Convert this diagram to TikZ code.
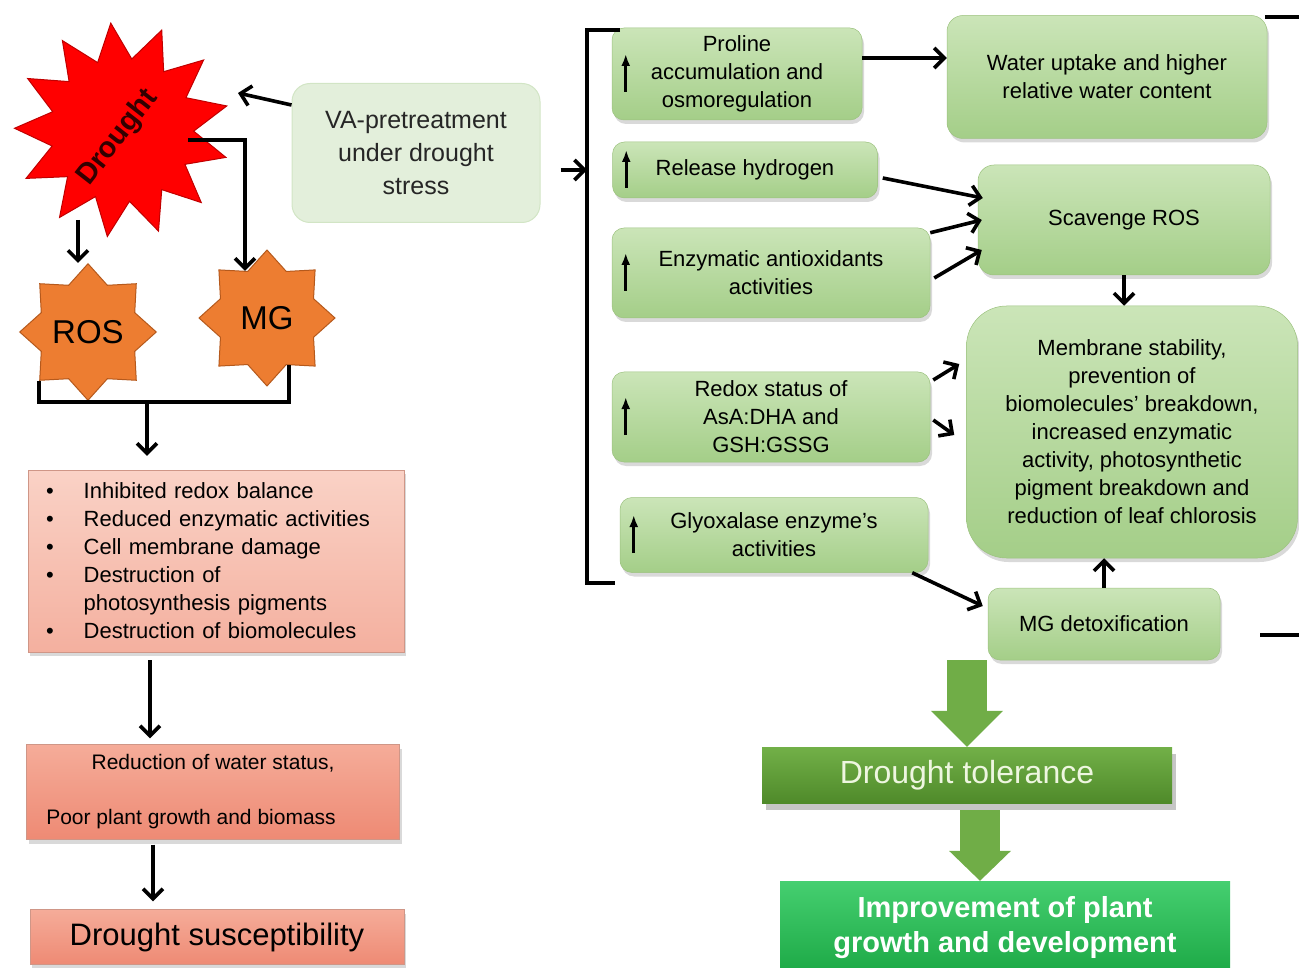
\documentclass[tikz,border=0pt]{standalone}
\usepackage{fontspec}
\setmainfont{Liberation Sans}
\usetikzlibrary{positioning, arrows.meta, shapes.geometric, shadows}

\definecolor{leaftop}{HTML}{CBE5B8}
\definecolor{leafbot}{HTML}{A4CE88}
\definecolor{leafline}{HTML}{9CC27F}
\definecolor{vafill}{HTML}{E3EFDB}
\definecolor{valine}{HTML}{D2E5C5}
\definecolor{rosetop}{HTML}{FAD2C6}
\definecolor{rosebot}{HTML}{F4B09F}
\definecolor{salmtop}{HTML}{F5AC99}
\definecolor{salmbot}{HTML}{EE8A74}
\definecolor{toltop}{HTML}{72B048}
\definecolor{tolbot}{HTML}{4F8A2A}
\definecolor{toltext}{HTML}{EEF6E0}
\definecolor{imptop}{HTML}{45CF70}
\definecolor{impbot}{HTML}{1CA845}
\definecolor{blockgreen}{HTML}{70AD47}
\definecolor{orangefill}{HTML}{ED7D31}
\definecolor{orangeline}{HTML}{B5591C}
\definecolor{burstred}{HTML}{FF0000}
\definecolor{burstline}{HTML}{C00000}

\begin{document}
\begin{tikzpicture}[x=1pt, y=-1pt,
    >={Straight Barb[length=10pt,width=20pt]},
    con/.style={->, line width=3.6pt},
    uparr/.style={-{Latex[length=12pt,width=9pt]}, line width=3.4pt},
    leaf/.style={rounded corners=12pt, top color=leaftop, bottom color=leafbot, draw=leafline,
      line width=.5pt, drop shadow={opacity=.3, shadow xshift=2pt, shadow yshift=-4pt},
      align=center, inner sep=0pt, font=\fontsize{22}{28}\selectfont},
    rose/.style={top color=rosetop, bottom color=rosebot, draw=rosebot!85!black, line width=.4pt,
      drop shadow={opacity=.3, shadow xshift=2pt, shadow yshift=-4pt}, inner sep=0pt,
      font=\fontsize{22}{28}\selectfont},
    burst/.style={star, star points=8, star point ratio=1.35, inner sep=0pt, minimum size=136pt,
      fill=orangefill, draw=orangeline, line width=1pt, font=\fontsize{33}{33}\selectfont},
    tol/.style={top color=toltop, bottom color=tolbot, text=toltext, inner sep=0pt,
      drop shadow={opacity=.45, shadow xshift=4pt, shadow yshift=-7pt}, font=\fontsize{32}{32}\selectfont},
    imp/.style={top color=imptop, bottom color=impbot, text=white, inner sep=0pt, align=center,
      font=\bfseries\fontsize{29}{35}\selectfont},
    block/.style={line width=40pt, blockgreen, -{Triangle[length=36pt,width=72pt,line width=0pt]}}]

  \useasboundingbox (0,0) rectangle (1299,968);

  % left side
  \node[star, star points=13, star point ratio=1.5, minimum size=215pt, inner sep=0pt,
    fill=burstred, draw=burstline, line width=1pt, shape border rotate=6] (1) at (122,130) {};
  \node[rotate=52, font=\bfseries\fontsize{29}{29}\selectfont, text=black!80!red] (1t) at (118,138) {Drought};
  \node[burst] (2) at (88,332) {ROS};
  \node[burst] (3) at (267,318) {MG};
  \node[rounded corners=18pt, fill=vafill, draw=valine, line width=1pt, minimum width=248pt,
    minimum height=139pt, align=center, font=\fontsize{25}{33}\selectfont, text=black!85] (0) at (416,153)
    {VA-pretreatment\\under drought\\stress};

  \node[rose, minimum width=376pt, minimum height=182pt, text width=340pt, align=left] (4) at (216,561)
    {\textbullet\hspace{30pt}Inhibited redox balance\\
     \textbullet\hspace{30pt}Reduced enzymatic activities\\
     \textbullet\hspace{30pt}Cell membrane damage\\
     \textbullet\hspace{30pt}Destruction of\\
     \hphantom{\textbullet}\hspace{30pt}photosynthesis pigments\\
     \textbullet\hspace{30pt}Destruction of biomolecules};
  \node[rose, top color=salmtop, bottom color=salmbot, minimum width=373pt, minimum height=95pt,
    align=center, font=\fontsize{21}{28}\selectfont] (5) at (213,792)
    {Reduction of water status,\\[27pt]\hspace*{-44pt}Poor plant growth and biomass};
  \node[rose, top color=salmtop, bottom color=salmbot, minimum width=374pt, minimum height=55pt,
    font=\fontsize{31}{31}\selectfont] (6) at (217,937) {Drought susceptibility};

  % right side
  \node[leaf, minimum width=250pt, minimum height=92pt] (7) at (737,74) {Proline\\accumulation and\\osmoregulation};
  \node[leaf, minimum width=320pt, minimum height=123pt, rounded corners=16pt] (8) at (1107,77)
    {Water uptake and higher\\relative water content};
  \node[leaf, minimum width=265pt, minimum height=56pt] (9) at (745,170) {Release hydrogen};
  \node[leaf, minimum width=292pt, minimum height=110pt, rounded corners=16pt] (10) at (1124,220) {Scavenge ROS};
  \node[leaf, minimum width=318pt, minimum height=90pt] (11) at (771,273) {Enzymatic antioxidants\\activities};
  \node[leaf, minimum width=331pt, minimum height=252pt, rounded corners=40pt] (12) at (1132,432)
    {Membrane stability,\\prevention of\\biomolecules’ breakdown,\\increased enzymatic\\activity, photosynthetic\\pigment breakdown and\\reduction of leaf chlorosis};
  \node[leaf, minimum width=318pt, minimum height=90pt] (13) at (771,417) {Redox status of\\AsA:DHA and\\GSH:GSSG};
  \node[leaf, minimum width=308pt, minimum height=75pt] (14) at (774,535) {Glyoxalase enzyme’s\\activities};
  \node[leaf, minimum width=232pt, minimum height=72pt] (15) at (1104,624) {MG detoxification};
  \node[tol, minimum width=410pt, minimum height=56pt] (16) at (967,775) {Drought tolerance};
  \node[imp, minimum width=450pt, minimum height=94pt] (17) at (1005,928) {Improvement of plant\\growth and development};

  \foreach \n in {7,9,11,13,14}
    \draw[uparr] ([xshift=14pt,yshift=-18pt]\n.west) -- ++(0,-38);

  % connectors on the left
  \coordinate (j) at (147,402);
  \coordinate (br) at (587,170);
  \draw[con] ([yshift=48pt]0.west) -- ([xshift=116pt,yshift=37pt]1.center);
  \draw[con] ([xshift=-44pt,yshift=-90pt]1.center) -- ([xshift=-44pt]1.center |- 2.90);
  \draw[con] ([xshift=66pt,yshift=-10pt]1.center) -| (3.115);
  \draw[line width=3.6pt] (2.225) |- (j) -| (3.-65);
  \draw[con, shorten >=14pt] (j) -- (j |- 4.north);
  \draw[con, shorten >=6pt] ([xshift=-66pt,yshift=-8pt]4.south) -- ([xshift=-66pt]4.south |- 5.north);
  \draw[con, shorten >=8pt] ([xshift=-60pt,yshift=-5pt]5.south) -- ([xshift=-60pt]5.south |- 6.north);

  % bracket
  \draw[line width=3.6pt] (620,30) -- (587,30) -- (587,583) -- (615,583);
  \draw[con, shorten <=20pt] (0.east |- br) -- (br);
  \draw[line width=3.6pt] (1265,17) -- (1299,17);
  \draw[line width=3.6pt] (1260,635) -- (1299,635);

  % connectors on the right
  \draw[con] ([yshift=16pt]7.east) -- ([yshift=19pt]8.west);
  \draw[con] ([xshift=5pt,yshift=-8pt]9.east) -- ([xshift=5pt,yshift=22pt]10.west);
  \draw[con] ([yshift=-5pt]11.north east) -- ([xshift=4pt]10.west);
  \draw[con] ([xshift=4pt,yshift=-5pt]11.east) -- ([xshift=4pt,yshift=-30pt]10.west);
  \draw[con] (10.south) -- (10.south |- 12.north);
  \draw[con] ([xshift=3pt,yshift=37pt]13.east) -- ([xshift=-7pt,yshift=68pt]12.west);
  \draw[con] ([xshift=3pt,yshift=-3pt]13.east) -- ([xshift=-12pt,yshift=-3pt]12.west);
  \draw[con] ([xshift=-16pt]14.south east) -- ([xshift=-5pt,yshift=18pt]15.west);
  \draw[con] (15.north) -- (15.north |- 12.south);

  % block arrows
  \draw[block] (16.north |- 15.south) -- (16.north);
  \draw[block, -{Triangle[length=30pt,width=62pt,line width=0pt]}] ([xshift=13pt,yshift=-7pt]16.south) -- ([xshift=-25pt]17.north);
\end{tikzpicture}
\end{document}
